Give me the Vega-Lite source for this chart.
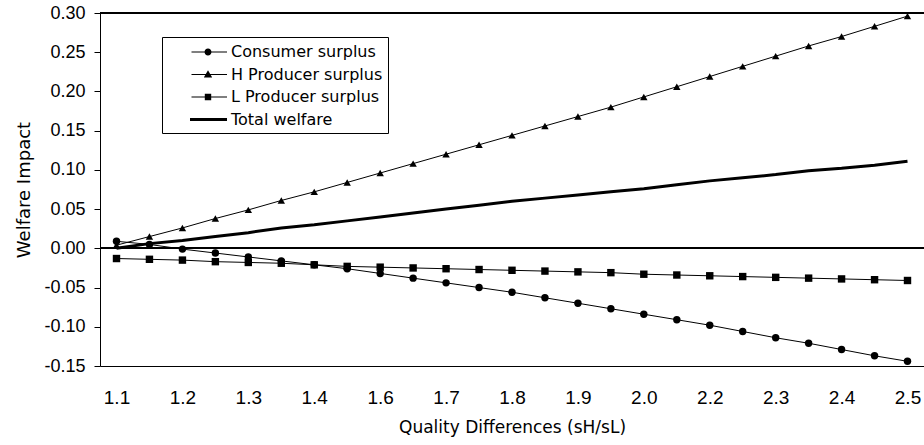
{
  "$schema": "https://vega.github.io/schema/vega-lite/v6.json",
  "width": 824,
  "height": 353,
  "autosize": {"type": "none"},
  "padding": {"left": 100, "top": 13, "right": 0, "bottom": 79},
  "background": "white",
  "config": {
    "view": {"stroke": null},
    "axis": {"domainColor": "black", "tickColor": "black", "labelColor": "black", "titleColor": "black", "grid": false}
  },
  "data": {
    "values": [
      {"x": 1.1000, "series": "Consumer surplus", "value": 0.009},
      {"x": 1.1583, "series": "Consumer surplus", "value": 0.005},
      {"x": 1.2167, "series": "Consumer surplus", "value": -0.001},
      {"x": 1.2750, "series": "Consumer surplus", "value": -0.006},
      {"x": 1.3333, "series": "Consumer surplus", "value": -0.011},
      {"x": 1.3917, "series": "Consumer surplus", "value": -0.016},
      {"x": 1.4500, "series": "Consumer surplus", "value": -0.021},
      {"x": 1.5083, "series": "Consumer surplus", "value": -0.026},
      {"x": 1.5667, "series": "Consumer surplus", "value": -0.032},
      {"x": 1.6250, "series": "Consumer surplus", "value": -0.038},
      {"x": 1.6833, "series": "Consumer surplus", "value": -0.044},
      {"x": 1.7417, "series": "Consumer surplus", "value": -0.050},
      {"x": 1.8000, "series": "Consumer surplus", "value": -0.056},
      {"x": 1.8583, "series": "Consumer surplus", "value": -0.063},
      {"x": 1.9167, "series": "Consumer surplus", "value": -0.070},
      {"x": 1.9750, "series": "Consumer surplus", "value": -0.077},
      {"x": 2.0333, "series": "Consumer surplus", "value": -0.084},
      {"x": 2.0917, "series": "Consumer surplus", "value": -0.091},
      {"x": 2.1500, "series": "Consumer surplus", "value": -0.098},
      {"x": 2.2083, "series": "Consumer surplus", "value": -0.106},
      {"x": 2.2667, "series": "Consumer surplus", "value": -0.114},
      {"x": 2.3250, "series": "Consumer surplus", "value": -0.121},
      {"x": 2.3833, "series": "Consumer surplus", "value": -0.129},
      {"x": 2.4417, "series": "Consumer surplus", "value": -0.137},
      {"x": 2.5000, "series": "Consumer surplus", "value": -0.144},
      {"x": 1.1000, "series": "H Producer surplus", "value": 0.004},
      {"x": 1.1583, "series": "H Producer surplus", "value": 0.015},
      {"x": 1.2167, "series": "H Producer surplus", "value": 0.026},
      {"x": 1.2750, "series": "H Producer surplus", "value": 0.038},
      {"x": 1.3333, "series": "H Producer surplus", "value": 0.049},
      {"x": 1.3917, "series": "H Producer surplus", "value": 0.061},
      {"x": 1.4500, "series": "H Producer surplus", "value": 0.072},
      {"x": 1.5083, "series": "H Producer surplus", "value": 0.084},
      {"x": 1.5667, "series": "H Producer surplus", "value": 0.096},
      {"x": 1.6250, "series": "H Producer surplus", "value": 0.108},
      {"x": 1.6833, "series": "H Producer surplus", "value": 0.120},
      {"x": 1.7417, "series": "H Producer surplus", "value": 0.132},
      {"x": 1.8000, "series": "H Producer surplus", "value": 0.144},
      {"x": 1.8583, "series": "H Producer surplus", "value": 0.156},
      {"x": 1.9167, "series": "H Producer surplus", "value": 0.168},
      {"x": 1.9750, "series": "H Producer surplus", "value": 0.180},
      {"x": 2.0333, "series": "H Producer surplus", "value": 0.193},
      {"x": 2.0917, "series": "H Producer surplus", "value": 0.206},
      {"x": 2.1500, "series": "H Producer surplus", "value": 0.219},
      {"x": 2.2083, "series": "H Producer surplus", "value": 0.232},
      {"x": 2.2667, "series": "H Producer surplus", "value": 0.245},
      {"x": 2.3250, "series": "H Producer surplus", "value": 0.258},
      {"x": 2.3833, "series": "H Producer surplus", "value": 0.270},
      {"x": 2.4417, "series": "H Producer surplus", "value": 0.283},
      {"x": 2.5000, "series": "H Producer surplus", "value": 0.296},
      {"x": 1.1000, "series": "L Producer surplus", "value": -0.013},
      {"x": 1.1583, "series": "L Producer surplus", "value": -0.014},
      {"x": 1.2167, "series": "L Producer surplus", "value": -0.015},
      {"x": 1.2750, "series": "L Producer surplus", "value": -0.017},
      {"x": 1.3333, "series": "L Producer surplus", "value": -0.018},
      {"x": 1.3917, "series": "L Producer surplus", "value": -0.019},
      {"x": 1.4500, "series": "L Producer surplus", "value": -0.021},
      {"x": 1.5083, "series": "L Producer surplus", "value": -0.023},
      {"x": 1.5667, "series": "L Producer surplus", "value": -0.024},
      {"x": 1.6250, "series": "L Producer surplus", "value": -0.025},
      {"x": 1.6833, "series": "L Producer surplus", "value": -0.026},
      {"x": 1.7417, "series": "L Producer surplus", "value": -0.027},
      {"x": 1.8000, "series": "L Producer surplus", "value": -0.028},
      {"x": 1.8583, "series": "L Producer surplus", "value": -0.029},
      {"x": 1.9167, "series": "L Producer surplus", "value": -0.030},
      {"x": 1.9750, "series": "L Producer surplus", "value": -0.031},
      {"x": 2.0333, "series": "L Producer surplus", "value": -0.033},
      {"x": 2.0917, "series": "L Producer surplus", "value": -0.034},
      {"x": 2.1500, "series": "L Producer surplus", "value": -0.035},
      {"x": 2.2083, "series": "L Producer surplus", "value": -0.036},
      {"x": 2.2667, "series": "L Producer surplus", "value": -0.037},
      {"x": 2.3250, "series": "L Producer surplus", "value": -0.038},
      {"x": 2.3833, "series": "L Producer surplus", "value": -0.039},
      {"x": 2.4417, "series": "L Producer surplus", "value": -0.040},
      {"x": 2.5000, "series": "L Producer surplus", "value": -0.041},
      {"x": 1.1000, "series": "Total welfare", "value": 0.000},
      {"x": 1.1583, "series": "Total welfare", "value": 0.006},
      {"x": 1.2167, "series": "Total welfare", "value": 0.010},
      {"x": 1.2750, "series": "Total welfare", "value": 0.015},
      {"x": 1.3333, "series": "Total welfare", "value": 0.020},
      {"x": 1.3917, "series": "Total welfare", "value": 0.026},
      {"x": 1.4500, "series": "Total welfare", "value": 0.030},
      {"x": 1.5083, "series": "Total welfare", "value": 0.035},
      {"x": 1.5667, "series": "Total welfare", "value": 0.040},
      {"x": 1.6250, "series": "Total welfare", "value": 0.045},
      {"x": 1.6833, "series": "Total welfare", "value": 0.050},
      {"x": 1.7417, "series": "Total welfare", "value": 0.055},
      {"x": 1.8000, "series": "Total welfare", "value": 0.060},
      {"x": 1.8583, "series": "Total welfare", "value": 0.064},
      {"x": 1.9167, "series": "Total welfare", "value": 0.068},
      {"x": 1.9750, "series": "Total welfare", "value": 0.072},
      {"x": 2.0333, "series": "Total welfare", "value": 0.076},
      {"x": 2.0917, "series": "Total welfare", "value": 0.081},
      {"x": 2.1500, "series": "Total welfare", "value": 0.086},
      {"x": 2.2083, "series": "Total welfare", "value": 0.090},
      {"x": 2.2667, "series": "Total welfare", "value": 0.094},
      {"x": 2.3250, "series": "Total welfare", "value": 0.099},
      {"x": 2.3833, "series": "Total welfare", "value": 0.102},
      {"x": 2.4417, "series": "Total welfare", "value": 0.106},
      {"x": 2.5000, "series": "Total welfare", "value": 0.111}
    ]
  },
  "encoding": {
    "x": {
      "field": "x",
      "type": "quantitative",
      "scale": {"domain": [1.0708, 2.5292], "nice": false, "zero": false},
      "axis": {
        "title": "Quality Differences (sH/sL)",
        "values": [1.1, 1.2167, 1.3333, 1.4499, 1.5667, 1.6833, 1.8, 1.9167, 2.0333, 2.1501, 2.2667, 2.3833, 2.5],
        "labelExpr": "format(datum.value, '.1f')",
        "ticks": false,
        "tickSize": 0,
        "labelPadding": 22,
        "labelFont": "Liberation Sans",
        "labelFontSize": 19,
        "labelFlush": false,
        "labelOverlap": false,
        "titleFont": "DejaVu Sans",
        "titleFontSize": 17,
        "titleFontWeight": "normal",
        "titleY": 53,
        "titleBaseline": "top"
      }
    },
    "y": {
      "field": "value",
      "type": "quantitative",
      "scale": {"domain": [-0.15, 0.3], "nice": false, "zero": false},
      "axis": {
        "title": "Welfare Impact",
        "values": [-0.15, -0.1, -0.05, 0, 0.05, 0.1, 0.15, 0.2, 0.25, 0.3],
        "labelExpr": "datum.value < -0.001 ? '-' + format(-datum.value, '.2f') : format(abs(datum.value), '.2f')",
        "tickSize": 6,
        "labelPadding": 9,
        "labelFont": "Liberation Sans",
        "labelFontSize": 18,
        "labelFlush": false,
        "titleFont": "DejaVu Sans",
        "titleFontSize": 18,
        "titleFontWeight": "normal",
        "titlePadding": 10
      }
    }
  },
  "resolve": {"scale": {"shape": "independent"}, "legend": {"shape": "independent"}},
  "layer": [
    {"mark": {"type": "rule", "color": "black", "strokeWidth": 1}, "encoding": {"x": null, "y": {"datum": 0}}},
    {"mark": {"type": "rule", "color": "black", "strokeWidth": 1}, "encoding": {"x": null, "y": {"datum": 0.3}}},
    {
      "mark": {"type": "line", "color": "black"},
      "encoding": {
        "detail": {"field": "series"},
        "strokeWidth": {"condition": {"test": "datum.series === 'Total welfare'", "value": 3}, "value": 1}
      }
    },
    {
      "transform": [{"filter": "datum.series !== 'Total welfare'"}],
      "mark": {"type": "point", "filled": true, "color": "black", "opacity": 1, "size": 55},
      "encoding": {
        "shape": {
          "field": "series",
          "type": "nominal",
          "scale": {
            "domain": ["Consumer surplus", "H Producer surplus", "L Producer surplus"],
            "range": ["circle", "triangle-up", "square"]
          },
          "legend": null
        }
      }
    },
    {
      "transform": [{"filter": "false"}],
      "mark": {"type": "point", "filled": true, "color": "black", "opacity": 1, "size": 400},
      "encoding": {
        "shape": {
          "field": "series",
          "type": "nominal",
          "scale": {
            "domain": ["Consumer surplus", "H Producer surplus", "L Producer surplus", "Total welfare"],
            "range": [
              "M1.45,-0.05H5V0.05H1.45ZM3.45,0A0.35,0.35,0,1,1,2.75,0A0.35,0.35,0,1,1,3.45,0Z",
              "M1.45,-0.05H5V0.05H1.45ZM3.1,-0.42L3.52,0.3L2.68,0.3Z",
              "M1.45,-0.05H5V0.05H1.45ZM2.78,-0.32H3.42V0.32H2.78Z",
              "M1.3,-0.15H5V0.15H1.3Z"
            ]
          },
          "legend": {
            "title": null,
            "orient": "none",
            "legendX": 62,
            "legendY": 24,
            "padding": 5,
            "strokeColor": "black",
            "fillColor": "white",
            "symbolSize": 400,
            "symbolStrokeWidth": 0,
            "symbolFillColor": "black",
            "labelFont": "DejaVu Sans",
            "labelFontSize": 16,
            "labelColor": "black",
            "labelOffset": 44,
            "rowPadding": 4.5,
            "encode": {
              "symbols": {
                "update": {
                  "fill": {"value": "black"},
                  "opacity": {"value": 1}
                }
              }
            }
          }
        }
      }
    }
  ]
}
